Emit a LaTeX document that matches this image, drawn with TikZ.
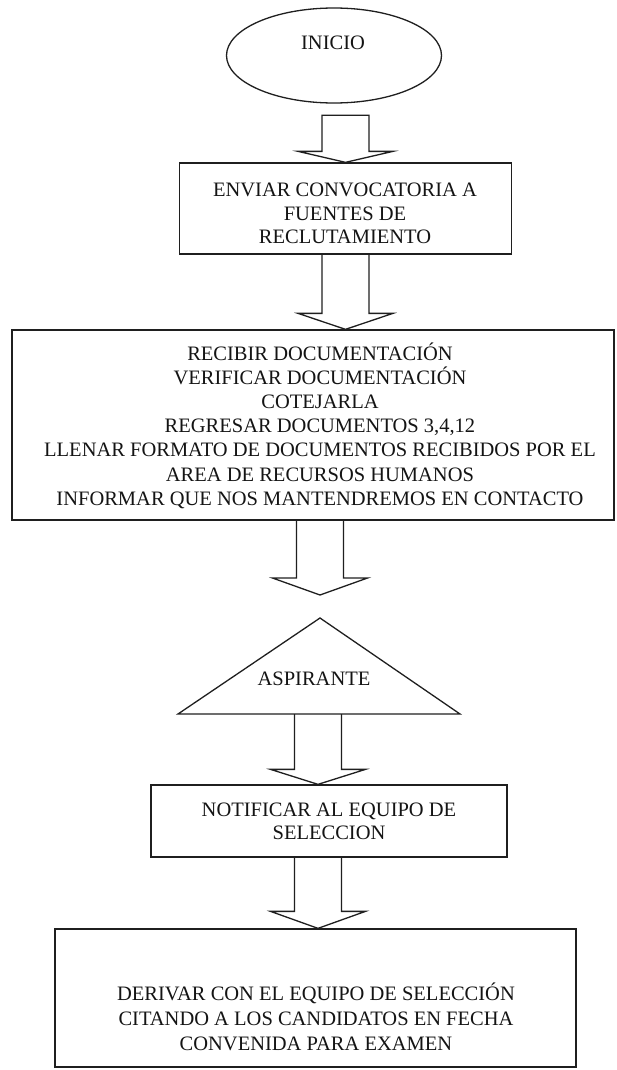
\documentclass[tikz,border=0pt]{standalone}
\usepackage{fontspec}
\setmainfont{Liberation Serif}
\usetikzlibrary{shapes.geometric,calc}
\tikzset{
  ln/.style={line width=1.3pt, draw=black!88, line join=miter},
  boxn/.style={ln, rectangle, inner sep=0pt},
  txt/.style={font=\fontsize{20.5}{24.2}\selectfont, align=center, inner sep=0pt, text=black!92},
}
% #1 = centre of shaft top, #2 = tip, #3 = head length, #4 = optional closing of the top
\newcommand{\blockarr}[4]{%
  \draw[ln] ($(#1)+(-23.5,0)$) -- ($(#2)+(-23.5,-#3)$) -- ($(#2)+(-47.5,-#3)$) -- (#2)
    -- ($(#2)+(47.5,-#3)$) -- ($(#2)+(23.5,-#3)$) -- ($(#1)+(23.5,0)$) #4;}
\begin{document}
\begin{tikzpicture}[x=1pt,y=-1pt]
\useasboundingbox (0,0) rectangle (616,1070);
\fill[white] (0,0) rectangle (616,1070);

% start ellipse
\node[ln, draw, ellipse, minimum width=215pt, minimum height=95pt, inner sep=0pt] (ini) at (334,55.5) {};
\node[txt] (tini) at (333,43) {INICIO};

% box 1
\node[boxn, draw, minimum width=332pt, minimum height=91pt] (b1) at (345.5,208.5) {};
\node[txt, font=\fontsize{20.5}{23.5}\selectfont] (t1) at (345,213.5) {ENVIAR CONVOCATORIA A\\FUENTES DE\\RECLUTAMIENTO};

% box 2
\node[boxn, draw, minimum width=602pt, minimum height=190pt] (b2) at (313,425) {};
\node[txt] (t2) at (320,425.5) {RECIBIR DOCUMENTACIÓN\\VERIFICAR DOCUMENTACIÓN\\COTEJARLA\\REGRESAR DOCUMENTOS 3,4,12\\LLENAR FORMATO DE DOCUMENTOS RECIBIDOS POR EL\\AREA DE RECURSOS HUMANOS\\INFORMAR QUE NOS MANTENDREMOS EN CONTACTO};

% triangle
\coordinate (triA) at (320,618);
\coordinate (triL) at (178,714);
\coordinate (triR) at (460,714);
\draw[ln] (triA) -- (triL) -- (triR) -- cycle;
\node[txt] (tasp) at (314,679) {ASPIRANTE};

% box 3
\node[boxn, draw, minimum width=356pt, minimum height=72pt] (b3) at (329,821) {};
\node[txt, font=\fontsize{20.5}{23}\selectfont] (t3) at (329,821.5) {NOTIFICAR AL EQUIPO DE\\SELECCION};

% box 4
\node[boxn, draw, minimum width=521pt, minimum height=138pt] (b4) at (315.5,998) {};
\node[txt, font=\fontsize{20.5}{25}\selectfont] (t4) at (316,1017) {DERIVAR CON EL EQUIPO DE SELECCIÓN\\CITANDO A LOS CANDIDATOS EN FECHA\\CONVENIDA PARA EXAMEN};

% block arrows
\coordinate (a1s) at ($(b1.north)+(0,-47)$);
\blockarr{a1s}{b1.north}{11}{-- cycle}

\coordinate (a2t) at (b2.north -| b1.south);
\blockarr{b1.south}{a2t}{16}{}

\coordinate (a3t) at (320,595);
\coordinate (a3s) at (b2.south -| a3t);
\blockarr{a3s}{a3t}{17}{}

\coordinate (a4t) at ($(b3.north)+(-11,0)$);
\coordinate (a4s) at (a4t |- triL);
\blockarr{a4s}{a4t}{15}{}

\coordinate (a5t) at (b4.north -| a4t);
\coordinate (a5s) at (b3.south -| a4t);
\blockarr{a5s}{a5t}{17}{}
\end{tikzpicture}
\end{document}
